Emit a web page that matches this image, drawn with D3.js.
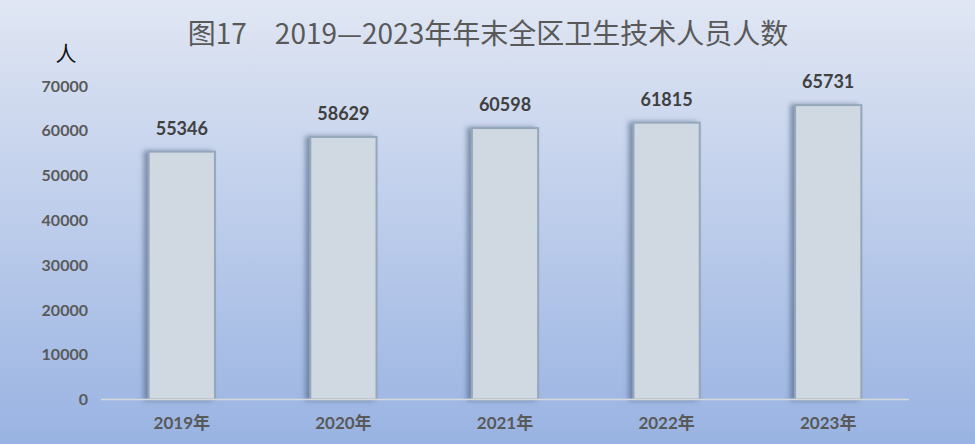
<!DOCTYPE html>
<html><head><meta charset="utf-8">
<script src="https://cdn.jsdelivr.net/npm/d3@7"></script>
<style>body{margin:0;padding:0;overflow:hidden}svg{display:block}</style>
</head><body>
<svg id="chart" width="975" height="444"></svg>
<script>
const categories = ["2019年","2020年","2021年","2022年","2023年"];
const values = [55346, 58629, 60598, 61815, 65731];
const yTicks = [0,10000,20000,30000,40000,50000,60000,70000];
const titleText = "图17\u30002019—2023年年末全区卫生技术人员人数";
const unitText = "人";

const W = 975, H = 444;
const svg = d3.select("#chart");
const defs = svg.append("defs");
const grad = defs.append("linearGradient").attr("id","bg").attr("x1",0).attr("y1",0).attr("x2",0).attr("y2",1);
grad.append("stop").attr("offset","0%").attr("stop-color","#e0e6f3");
grad.append("stop").attr("offset","100%").attr("stop-color","#99b3e2");
const f = defs.append("filter").attr("id","sh").attr("x","-30%").attr("y","-10%").attr("width","160%").attr("height","120%");
f.append("feDropShadow").attr("dx",-4).attr("dy",0).attr("stdDeviation",2.5).attr("flood-color","#4a5f7e").attr("flood-opacity",0.6);

svg.append("rect").attr("width",W).attr("height",H).attr("fill","url(#bg)");

const x = d3.scaleBand().domain(categories).range([101,909]).paddingInner(0.59).paddingOuter(0.295);
const y = d3.scaleLinear().domain([0,70000]).range([399.5,86]);

// bars
svg.append("g").selectAll("rect").data(values).join("rect")
  .attr("x",(d,i)=>x(categories[i]))
  .attr("y",d=>y(d))
  .attr("width",x.bandwidth())
  .attr("height",d=>y(0)-y(d))
  .attr("fill","#d0d8e2")
  .attr("stroke","#94a7bb")
  .attr("stroke-width",2)
  .attr("filter","url(#sh)");

// axis line
svg.append("line").attr("x1",101).attr("x2",909).attr("y1",y(0)).attr("y2",y(0))
  .attr("stroke","#d9d9d9").attr("stroke-width",1.5);

// y axis
const yAxis = d3.axisLeft(y).tickValues(yTicks).tickSize(0).tickPadding(0).tickFormat(d3.format("d"));
const gy = svg.append("g").attr("transform","translate(88,0)").call(yAxis);
gy.select(".domain").remove();
gy.selectAll("text").attr("font-family","Lato, 'Noto Sans', sans-serif").attr("font-weight","bold")
  .attr("font-size","16px").attr("fill","#595959");

// x axis
const xAxis = d3.axisBottom(x).tickSize(0).tickPadding(0);
const gx = svg.append("g").attr("transform",`translate(0,${y(0)+17})`).call(xAxis);
gx.select(".domain").remove();
gx.selectAll("text").attr("font-family","Lato, 'Noto Sans CJK SC', sans-serif").attr("font-weight","bold")
  .attr("font-size","17px").attr("fill","#595959");

// value labels
svg.append("g").selectAll("text").data(values).join("text")
  .attr("x",(d,i)=>x(categories[i])+x.bandwidth()/2)
  .attr("y",d=>y(d)-17)
  .attr("text-anchor","middle")
  .attr("font-family","Lato, 'Noto Sans', sans-serif").attr("font-weight","bold")
  .attr("font-size","18px").attr("fill","#404040")
  .text(d=>d);

// title
svg.append("text").attr("x",488).attr("y",44).attr("text-anchor","middle")
  .attr("font-family","'Noto Sans CJK SC', sans-serif").attr("font-size","28px").attr("fill","#595959")
  .text(titleText);

// unit
svg.append("text").attr("x",66).attr("y",61).attr("text-anchor","middle")
  .attr("font-family","'Noto Sans CJK SC', sans-serif").attr("font-size","21px").attr("fill","#111")
  .text(unitText);
</script>
</body></html>
